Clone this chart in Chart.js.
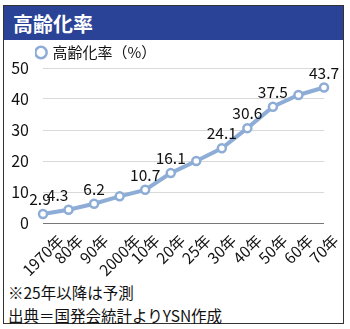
<!DOCTYPE html>
<html>
<head>
<meta charset="utf-8">
<script src="https://cdn.jsdelivr.net/npm/chart.js@4"></script>
<style>
  body { margin: 0; background: #fff; font-family: "Noto Sans CJK JP", sans-serif; }
  #frame { position: absolute; left: 3px; top: 5px; width: 339px; height: 317px; border: 1px solid #333; box-sizing: content-box; }
  #title { position: absolute; left: 0; top: 0; width: 339px; height: 34px; background: #2a4396; color: #fff; font-weight: bold; font-size: 20px; line-height: 36px; padding-left: 9px; box-sizing: border-box; }
  #box { position: absolute; left: 0; top: 35px; width: 339px; height: 238px; }
  .note { position: absolute; left: 4px; font-size: 15.5px; color: #111; line-height: 18px; }
</style>
</head>
<body>
<div id="frame">
  <div id="title">高齢化率</div>
  <div id="box"><canvas id="myChart"></canvas></div>
  <div class="note" style="top:277px">※25年以降は予測</div>
  <div class="note" style="top:300px">出典＝国発会統計よりYSN作成</div>
</div>
<script>
var years = ['1970年', '80年', '90年', '2000年', '10年', '20年', '25年', '30年', '40年', '50年', '60年', '70年'];
var rate = [2.9, 4.3, 6.2, 8.6, 10.7, 16.1, 20.0, 24.1, 30.6, 37.5, 41.3, 43.7];
var showValue = [true, true, true, false, true, true, false, true, true, true, false, true];

var FONT = '"Noto Sans CJK JP", sans-serif';

// value labels over the points + excel-style slanted category labels
var extras = {
    id: 'extras',
    afterLayout: function (chart) {
        chart.legend.left += 31;
        chart.legend.top += 2;
    },
    afterDatasetsDraw: function (chart) {
        var ctx = chart.ctx;
        var meta = chart.getDatasetMeta(0);
        ctx.save();
        ctx.font = '15.5px ' + FONT;
        ctx.fillStyle = '#111';
        ctx.textAlign = 'center';
        ctx.textBaseline = 'bottom';
        meta.data.forEach(function (pt, i) {
            if (!showValue[i]) return;
            var dx = (i === 1) ? -11 : (i === 0 ? -3 : 0);
            ctx.fillText(rate[i].toFixed(1), pt.x + dx, pt.y - 7);
        });

        // category labels, rotated 45deg, box centred on the tick
        var xs = chart.scales.x;
        ctx.font = '15.5px ' + FONT;
        ctx.textBaseline = 'middle';
        years.forEach(function (lab, i) {
            var w = ctx.measureText(lab).width;
            var box = (w + 13) * Math.SQRT1_2;
            var cx = xs.getPixelForTick(i);
            var cy = xs.top + 10 + box / 2;
            ctx.save();
            ctx.translate(cx, cy);
            ctx.rotate(-Math.PI / 4);
            ctx.fillText(lab, 0, 0);
            ctx.restore();
        });
        ctx.restore();
    }
};

var ctx = document.getElementById('myChart').getContext('2d');

chart = new Chart(ctx, {
    type: 'line',
    data: {
        labels: years,
        datasets: [{
            label: '高齢化率（%）',
            borderColor: 'rgb(141, 173, 214)',
            backgroundColor: '#fff',
            borderWidth: 4,
            data: rate,
            radius: 4,
            pointBorderWidth: 2.5,
            pointBackgroundColor: '#fff',
            pointBorderColor: 'rgb(141, 173, 214)'
        }]
    },
    options: {
        responsive: true,
        maintainAspectRatio: false,
        animation: false,
        layout: { padding: { left: 0, right: 19, top: 0, bottom: 0 } },
        plugins: {
            legend: {
                align: 'start',
                labels: {
                    usePointStyle: true,
                    pointStyle: 'circle',
                    boxWidth: 8,
                    boxHeight: 8,
                    padding: 2,
                    color: '#111',
                    font: { size: 15, family: FONT }
                }
            },
            tooltip: { enabled: false }
        },
        scales: {
            x: {
                offset: false,
                grid: { display: false, drawTicks: false },
                border: { display: false },
                ticks: { display: false, autoSkip: false },
                afterFit: function (s) { s.height = 56; }
            },
            y: {
                min: 0,
                max: 50,
                ticks: {
                    stepSize: 10,
                    color: '#111',
                    padding: 14,
                    font: { size: 16, family: FONT }
                },
                grid: {
                    drawTicks: false,
                    color: function (c) { return c.tick.value === 0 ? '#777' : '#d9d9d9'; },
                    lineWidth: 1
                },
                border: { display: false },
                afterFit: function (s) { s.width = 39; }
            }
        }
    },
    plugins: [extras]
});
</script>
</body>
</html>
